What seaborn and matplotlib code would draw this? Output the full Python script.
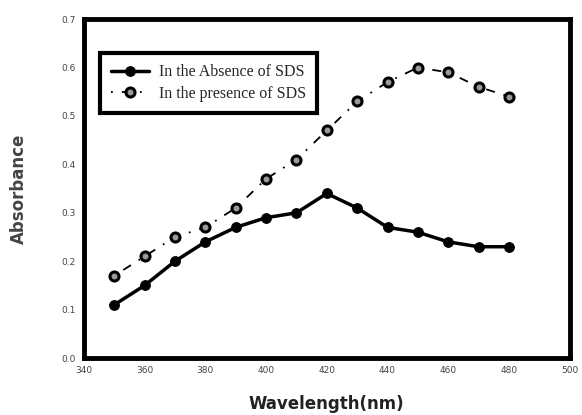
import matplotlib
matplotlib.use("Agg")
import matplotlib.pyplot as plt
import seaborn as sns
import pandas as pd

wavelength = [350, 360, 370, 380, 390, 400, 410, 420, 430, 440, 450, 460, 470, 480]
absence = [0.11, 0.15, 0.20, 0.24, 0.27, 0.29, 0.30, 0.34, 0.31, 0.27, 0.26, 0.24, 0.23, 0.23]
presence = [0.17, 0.21, 0.25, 0.27, 0.31, 0.37, 0.41, 0.47, 0.53, 0.57, 0.60, 0.59, 0.56, 0.54]
labels = ["In the Absence of SDS", "In the presence of SDS"]
xticks = [340, 360, 380, 400, 420, 440, 460, 480, 500]
yticks = [0.0, 0.1, 0.2, 0.3, 0.4, 0.5, 0.6, 0.7]

sns.set_style("white")
fig = plt.figure(figsize=(5.82, 4.15), dpi=100)
ax = fig.add_axes([0.144, 0.137, 0.835, 0.817])

df_a = pd.DataFrame({"x": wavelength, "y": absence})
df_p = pd.DataFrame({"x": wavelength, "y": presence})
sns.lineplot(data=df_a, x="x", y="y", ax=ax, color="black", lw=2.5,
             marker="o", markersize=7, markerfacecolor="black",
             markeredgecolor="black", label=labels[0])
sns.lineplot(data=df_p, x="x", y="y", ax=ax, color="black", lw=1.3,
             linestyle=(0, (1, 5, 5, 5)),
             marker="o", markersize=6.5, markerfacecolor="#9a9a9a",
             markeredgecolor="black", markeredgewidth=2.2, label=labels[1])

ax.set_xlim(340, 500)
ax.set_ylim(0, 0.7)
ax.set_xticks(xticks)
ax.set_yticks(yticks)
ax.set_xticklabels([str(t) for t in xticks], fontsize=6.5, color="#444444")
ax.set_yticklabels([f"{t:.1f}" for t in yticks], fontsize=6.5, color="#444444")
ax.tick_params(axis="both", direction="out", length=3, width=3, color="black", pad=3)
for s in ax.spines.values():
    s.set_linewidth(3.5)
    s.set_color("black")

ax.set_xlabel("Wavelength(nm)", fontsize=12, fontweight="bold", color="#222222", labelpad=14)
ax.set_ylabel("Absorbance", fontsize=12, fontweight="bold", color="#444444", labelpad=24)

leg = ax.legend(loc="upper left", bbox_to_anchor=(0.033, 0.9), borderaxespad=0,
                prop={"family": "Liberation Serif", "size": 11.5},
                frameon=True, fancybox=False, framealpha=1, handlelength=2.4,
                borderpad=0.7, labelspacing=0.35, handletextpad=0.6)
leg.get_frame().set_edgecolor("black")
leg.get_frame().set_linewidth(3)

fig.savefig("out.png", dpi=100)
